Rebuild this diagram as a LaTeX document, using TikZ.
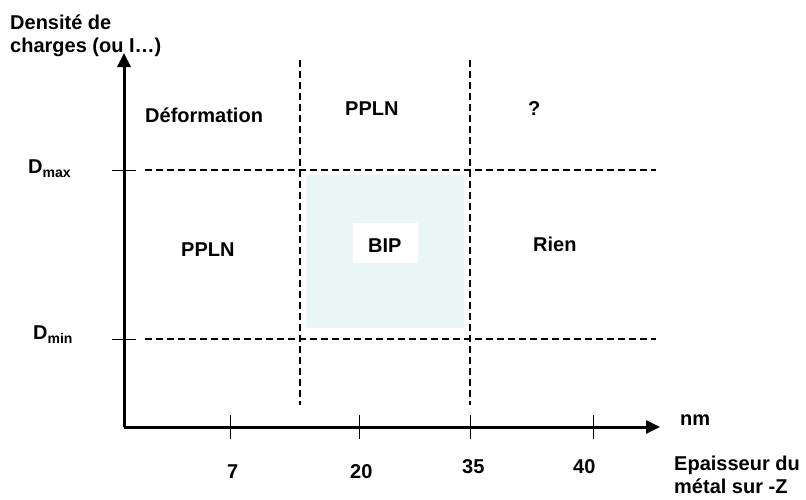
\documentclass[tikz,border=0pt]{standalone}
\usepackage{fontspec}
\setmainfont{Liberation Sans}
\usetikzlibrary{arrows.meta}
\definecolor{zonebip}{RGB}{234,245,245}
\newcommand{\indice}[1]{\raisebox{-4pt}{\fontsize{14}{16}\selectfont #1}}
\begin{document}
\begin{tikzpicture}[x=1pt,y=-1pt,
    txt/.style={font=\fontsize{20}{24}\selectfont\bfseries, inner sep=0pt, anchor=base west},
    axe/.style={line width=3pt, -{Triangle[length=14pt,width=13pt]}},
    graduation/.style={line width=1pt},
    limite/.style={line width=2pt, dash pattern=on 7pt off 4pt}]
  \useasboundingbox (0,0) rectangle (806,499);

  % Zone BIP
  \fill[zonebip] (306,175) rectangle (464,328);
  \node[fill=white, minimum width=65pt, minimum height=40pt] (fondbip) at (385.5,243) {};

  % Axes
  \coordinate (origine) at (124,427);
  \coordinate (hautY) at (124,53);
  \coordinate (finX) at (660,427);
  \draw[axe] (origine) -- (hautY);
  \draw[axe] (origine) -- (finX);

  % Limites
  \coordinate (dmaxG) at (145,170);
  \coordinate (dmaxD) at (656,170);
  \coordinate (dminG) at (145,339);
  \coordinate (dminD) at (656,339);
  \coordinate (v1H) at (300,60);
  \coordinate (v1B) at (300,405);
  \coordinate (v2H) at (470,60);
  \coordinate (v2B) at (470,405);
  \draw[limite] (dmaxG) -- (dmaxD);
  \draw[limite] (dminG) -- (dminD);
  \draw[limite] (v1H) -- (v1B);
  \draw[limite] (v2H) -- (v2B);

  % Graduations
  \draw[graduation] (112,170) -- (136,170);
  \draw[graduation] (112,339) -- (136,339);
  \foreach \gx in {230,359,470,593}
    \draw[graduation] (\gx,415) -- (\gx,439);

  % Textes de l'axe vertical
  \node[txt] (titreY1) at (10,29) {Densité de};
  \node[txt] (titreY2) at (10,52) {charges (ou I…)};
  \node[txt] (dmax) at (28,173) {D\indice{max}};
  \node[txt] (dmin) at (33,339) {D\indice{min}};

  % Textes des zones
  \node[txt] (deform) at (145,122) {Déformation};
  \node[txt] (ppln1) at (345,115) {PPLN};
  \node[txt] (inconnu) at (528,115) {?};
  \node[txt] (ppln2) at (181,256) {PPLN};
  \node[txt] (bip) at (368,252) {BIP};
  \node[txt] (rien) at (533,251) {Rien};

  % Textes de l'axe horizontal
  \node[txt] (n7) at (227,478) {7};
  \node[txt] (n20) at (350,478) {20};
  \node[txt] (n35) at (462,473) {35};
  \node[txt] (n40) at (573,473) {40};
  \node[txt] (unite) at (680,425) {nm};
  \node[txt] (titreX1) at (674,470) {Epaisseur du};
  \node[txt] (titreX2) at (674,493) {métal sur -Z};
\end{tikzpicture}
\end{document}
